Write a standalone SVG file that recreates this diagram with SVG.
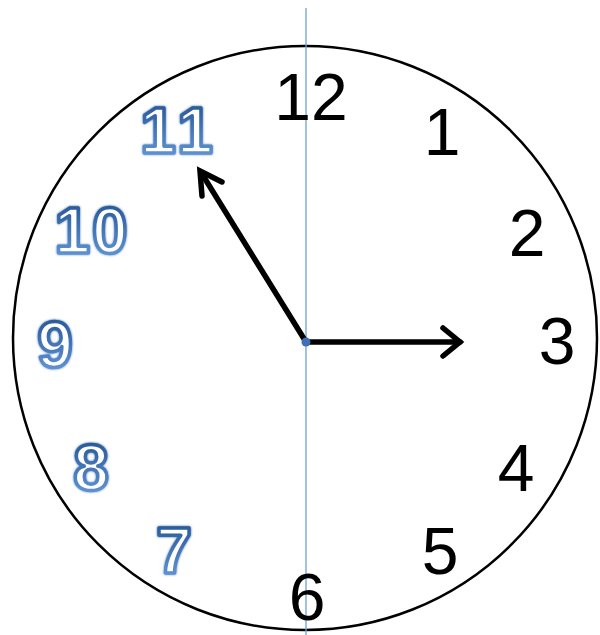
<svg xmlns="http://www.w3.org/2000/svg" width="600" height="635" viewBox="0 0 600 635">
<style>
.num{font-family:"Liberation Sans",Arial,sans-serif;font-size:66px;fill:#000;text-anchor:middle}
.out{font-family:"Liberation Sans",Arial,sans-serif;font-size:64px;font-weight:bold;fill:#fff;stroke:url(#blueGrad);stroke-width:3.5;stroke-linejoin:round;text-anchor:middle;filter:url(#soft)}
.hand{stroke:#000;stroke-width:5.5;fill:none;stroke-linecap:round}
.head{stroke:#000;stroke-width:5.5;fill:none;stroke-linecap:round;stroke-linejoin:miter}
</style>
<defs>
<linearGradient id="blueGrad" x1="0" y1="0" x2="0" y2="1">
<stop offset="0" stop-color="#1f4f8f"/>
<stop offset="1" stop-color="#6b9fe0"/>
</linearGradient>
<filter id="soft" x="-20%" y="-20%" width="140%" height="140%">
<feGaussianBlur in="SourceGraphic" stdDeviation="1.2" result="b"/>
<feMerge><feMergeNode in="b"/><feMergeNode in="SourceGraphic"/></feMerge>
</filter>
</defs>
<g id="face">
<circle cx="305" cy="338" r="292" fill="#fff" stroke="#000" stroke-width="2.5"/>
</g>
<g id="axis">
<line x1="306" y1="8" x2="306" y2="635" stroke="#6f9fd8" stroke-width="1.3"/>
</g>
<g id="numbers">
<g id="n12"><text class="num" x="311" y="120">12</text></g>
<g id="n1"><text class="num" x="442" y="155">1</text></g>
<g id="n2"><text class="num" x="527" y="256">2</text></g>
<g id="n3"><text class="num" x="557" y="364">3</text></g>
<g id="n4"><text class="num" x="516" y="491">4</text></g>
<g id="n5"><text class="num" x="440" y="574">5</text></g>
<g id="n6"><text class="num" x="307" y="620" font-size="64">6</text></g>
<g id="n7"><text class="out" x="174" y="573">7</text></g>
<g id="n8"><text class="out" x="91" y="490">8</text></g>
<g id="n9"><text class="out" x="55" y="367">9</text></g>
<g id="n10"><text class="out" x="92" y="253" letter-spacing="2">10</text></g>
<g id="n11"><text class="out" x="179" y="153" letter-spacing="5">11</text></g>
</g>
<g id="connectors">
<line class="hand" x1="306" y1="342" x2="202" y2="174"/>
<polyline class="head" points="202,196 200,171 222,182"/>
<line class="hand" x1="306" y1="342" x2="460" y2="342"/>
<polyline class="head" points="443,328 460,342 443,356"/>
</g>
<g id="center">
<circle cx="306" cy="342" r="4.5" fill="#3f6fb5"/>
</g>
</svg>
